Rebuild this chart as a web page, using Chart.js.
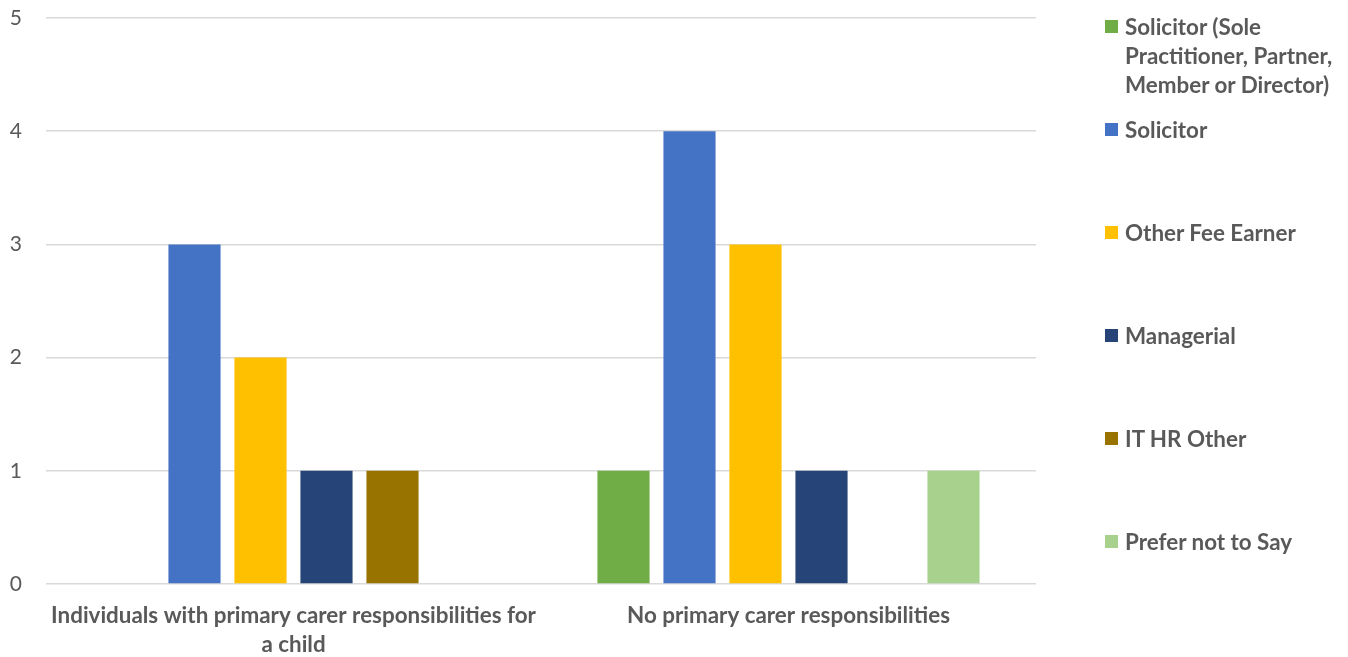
<!DOCTYPE html>
<html>
<head>
<meta charset="utf-8">
<script src="https://cdn.jsdelivr.net/npm/chart.js@4.4.1/dist/chart.umd.min.js"></script>
<style>
  html, body { margin: 0; padding: 0; background: #fff; }
  #wrap { position: relative; width: 1348px; height: 657px; overflow: hidden; }
  #chart { position: absolute; left: 0; top: 0; }
  #legend {
    position: absolute; left: 1105px; top: 12px; width: 240px;
    font-family: Lato, "Open Sans", sans-serif; font-weight: bold;
    font-size: 22.4px; line-height: 29px; color: #595959;
  }
  .item { display: flex; align-items: flex-start; height: 103px; }
  .swatch { flex: none; width: 13px; height: 13px; margin: 8px 7px 0 0; }
  .label { width: 218px; }
</style>
</head>
<body>
<div id="wrap">
  <canvas id="chart" width="1348" height="657"></canvas>
  <div id="legend"></div>
</div>
<script>
// ─── Datos ────────────────────────────────────────────────────
const categorias = [
  ["Individuals with primary carer responsibilities for", "a child"],
  "No primary carer responsibilities"
];
const series = [
  "Solicitor (Sole Practitioner, Partner, Member or Director)",
  "Solicitor",
  "Other Fee Earner",
  "Managerial",
  "IT HR Other",
  "Prefer not to Say"
];
const colores = ["#70AD47", "#4472C4", "#FFC000", "#264478", "#997300", "#A9D18E"];

const valSolicitorSocio = [0, 1];
const valSolicitor      = [3, 4];
const valOtroFee        = [2, 3];
const valGerencial      = [1, 1];
const valItHrOtro       = [1, 0];
const valPrefiereNo     = [0, 1];

const ticksY = [0, 1, 2, 3, 4, 5];

const valores = [valSolicitorSocio, valSolicitor, valOtroFee, valGerencial, valItHrOtro, valPrefiereNo];

// ─── Leyenda HTML ─────────────────────────────────────────────
const legend = document.getElementById("legend");
legend.innerHTML = series.map((s, i) => `
  <div class="item">
    <span class="swatch" style="background:${colores[i]}"></span>
    <span class="label">${s}</span>
  </div>`).join("");

// ─── Gráfico ──────────────────────────────────────────────────
const gris = "#595959";
const fuente = "Lato, 'Open Sans', sans-serif";

new Chart(document.getElementById("chart"), {
  type: "bar",
  data: {
    labels: categorias,
    datasets: series.map((s, i) => ({
      label: s,
      data: valores[i],
      backgroundColor: colores[i],
      categoryPercentage: 0.8,
      barPercentage: 0.79
    }))
  },
  options: {
    responsive: false,
    animation: false,
    layout: { padding: { top: 18, right: 312, left: 0, bottom: 0 } },
    plugins: { legend: { display: false }, tooltip: { enabled: false } },
    scales: {
      x: {
        grid: { display: false },
        border: { display: false },
        ticks: {
          color: gris, padding: 9, maxRotation: 0,
          font: { family: fuente, size: 22.4, weight: "bold", lineHeight: 1.3 }
        },
        afterFit: s => { s.height = 73; s.paddingLeft = 0; s.paddingRight = 0; }
      },
      y: {
        min: ticksY[0], max: ticksY[ticksY.length - 1],
        afterBuildTicks: s => { s.ticks = ticksY.map(v => ({ value: v })); },
        grid: { color: "#D9D9D9", lineWidth: 1.5, drawTicks: false },
        border: { display: false },
        ticks: { color: gris, padding: 24, font: { family: fuente, size: 21 } },
        afterFit: s => { s.width = 46; s.paddingTop = 0; s.paddingBottom = 0; }
      }
    }
  }
});
</script>
</body>
</html>
